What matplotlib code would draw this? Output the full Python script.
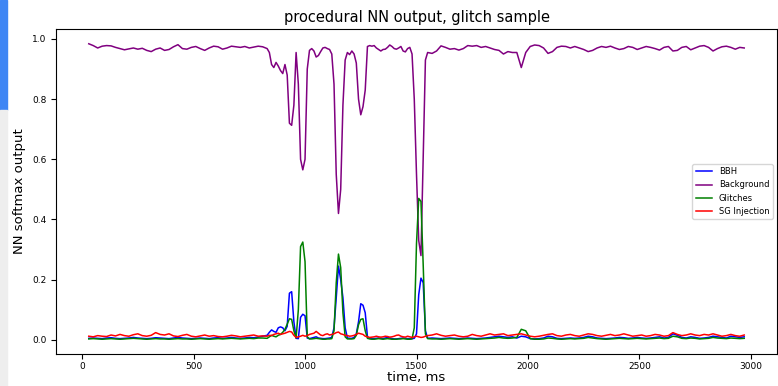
import numpy as np
import matplotlib
matplotlib.use('Agg')  # no display
import matplotlib.pyplot as plt
from matplotlib.patches import Rectangle

# sample times (ms): coarse outside the glitch window, finer inside it
time_ms = np.concatenate([
    np.arange(30, 830, 20),     # 40 samples
    np.arange(830, 1560, 10),   # 73 samples
    np.arange(1570, 2990, 20),  # 71 samples
])

bbh = [
    0.005, 0.006, 0.005, 0.004, 0.006, 0.007, 0.005, 0.004, 0.005, 0.006,
    0.008, 0.006, 0.005, 0.004, 0.005, 0.007, 0.006, 0.005, 0.004, 0.006,
    0.008, 0.006, 0.005, 0.004, 0.005, 0.006, 0.005, 0.004, 0.006, 0.007,
    0.005, 0.006, 0.008, 0.006, 0.005, 0.006, 0.008, 0.007, 0.009, 0.012,
    # 830 - 1550
    0.015, 0.025, 0.033, 0.028, 0.025, 0.040, 0.043, 0.040, 0.030, 0.045,
    0.155, 0.160, 0.060, 0.005, 0.004, 0.075, 0.085, 0.080, 0.006, 0.004,
    0.006, 0.008, 0.010, 0.006, 0.005, 0.004, 0.004, 0.005, 0.006, 0.008,
    0.040, 0.140, 0.245, 0.200, 0.140, 0.040, 0.006, 0.005, 0.005, 0.008,
    0.020, 0.060, 0.120, 0.115, 0.090, 0.010, 0.005, 0.004, 0.004, 0.005,
    0.006, 0.005, 0.004, 0.006, 0.008, 0.006, 0.004, 0.003, 0.003, 0.004,
    0.005, 0.006, 0.005, 0.004, 0.004, 0.004, 0.005, 0.020, 0.150, 0.205,
    0.190, 0.030, 0.005,
    # 1570 - 2970
    0.006, 0.005, 0.004, 0.005, 0.006, 0.005, 0.004, 0.005, 0.006, 0.005,
    0.004, 0.005, 0.006, 0.008, 0.010, 0.012, 0.010, 0.008, 0.010, 0.006,
    0.012, 0.010, 0.004, 0.003, 0.004, 0.006, 0.012, 0.010, 0.005, 0.004,
    0.005, 0.006, 0.005, 0.006, 0.008, 0.012, 0.010, 0.006, 0.005, 0.004,
    0.005, 0.006, 0.008, 0.007, 0.005, 0.006, 0.008, 0.006, 0.005, 0.006,
    0.008, 0.010, 0.006, 0.008, 0.020, 0.015, 0.008, 0.006, 0.010, 0.008,
    0.005, 0.006, 0.008, 0.012, 0.010, 0.008, 0.006, 0.012, 0.010, 0.008,
    0.010,
]

background = [
    0.984, 0.978, 0.970, 0.976, 0.978, 0.977, 0.972, 0.968, 0.964, 0.967,
    0.970, 0.966, 0.969, 0.962, 0.958, 0.966, 0.970, 0.962, 0.965, 0.974,
    0.981, 0.968, 0.966, 0.972, 0.975, 0.968, 0.962, 0.970, 0.976, 0.974,
    0.966, 0.970, 0.976, 0.974, 0.972, 0.975, 0.970, 0.973, 0.976, 0.974,
    # 830 - 1550
    0.968, 0.955, 0.915, 0.905, 0.922, 0.910, 0.895, 0.885, 0.915, 0.880,
    0.720, 0.713, 0.780, 0.955, 0.850, 0.600, 0.565, 0.600, 0.900, 0.962,
    0.968, 0.960, 0.940, 0.945, 0.958, 0.970, 0.972, 0.968, 0.965, 0.950,
    0.850, 0.550, 0.420, 0.500, 0.780, 0.930, 0.955, 0.948, 0.960, 0.950,
    0.920, 0.800, 0.748, 0.775, 0.830, 0.975, 0.978, 0.976, 0.978, 0.970,
    0.965, 0.960, 0.965, 0.966, 0.972, 0.980, 0.975, 0.968, 0.966, 0.970,
    0.975, 0.960, 0.957, 0.968, 0.972, 0.950, 0.800, 0.550, 0.330, 0.280,
    0.600, 0.930, 0.955,
    # 1570 - 2970
    0.952, 0.960, 0.977, 0.972, 0.966, 0.968, 0.963, 0.968, 0.978, 0.976,
    0.978, 0.972, 0.975, 0.970, 0.965, 0.962, 0.950, 0.958, 0.955, 0.955,
    0.905, 0.955, 0.975, 0.980, 0.978, 0.970, 0.952, 0.958, 0.972, 0.976,
    0.975, 0.970, 0.975, 0.970, 0.965, 0.958, 0.962, 0.970, 0.975, 0.972,
    0.976, 0.970, 0.965, 0.968, 0.975, 0.972, 0.965, 0.970, 0.975, 0.972,
    0.968, 0.963, 0.972, 0.975, 0.960, 0.962, 0.972, 0.975, 0.964, 0.970,
    0.976, 0.978, 0.972, 0.960, 0.968, 0.974, 0.976, 0.972, 0.966, 0.972,
    0.970,
]

glitches = [
    0.003, 0.004, 0.003, 0.002, 0.003, 0.004, 0.003, 0.002, 0.003, 0.004,
    0.005, 0.004, 0.003, 0.002, 0.003, 0.004, 0.003, 0.003, 0.002, 0.003,
    0.004, 0.003, 0.003, 0.002, 0.003, 0.004, 0.003, 0.002, 0.003, 0.004,
    0.003, 0.004, 0.005, 0.004, 0.003, 0.004, 0.005, 0.004, 0.006, 0.006,
    # 830 - 1550
    0.005, 0.010, 0.015, 0.012, 0.010, 0.015, 0.018, 0.025, 0.035, 0.052,
    0.070, 0.068, 0.030, 0.006, 0.100, 0.310, 0.325, 0.260, 0.010, 0.003,
    0.003, 0.004, 0.005, 0.004, 0.003, 0.002, 0.002, 0.003, 0.003, 0.004,
    0.030, 0.190, 0.285, 0.240, 0.090, 0.010, 0.003, 0.003, 0.003, 0.004,
    0.015, 0.050, 0.068, 0.070, 0.030, 0.005, 0.003, 0.002, 0.002, 0.003,
    0.004, 0.003, 0.002, 0.003, 0.004, 0.003, 0.002, 0.002, 0.002, 0.003,
    0.003, 0.004, 0.003, 0.002, 0.002, 0.003, 0.040, 0.320, 0.470, 0.460,
    0.250, 0.020, 0.004,
    # 1570 - 2970
    0.003, 0.003, 0.002, 0.003, 0.004, 0.003, 0.002, 0.003, 0.004, 0.003,
    0.002, 0.003, 0.004, 0.005, 0.006, 0.008, 0.006, 0.005, 0.006, 0.008,
    0.035, 0.030, 0.004, 0.002, 0.002, 0.003, 0.006, 0.005, 0.003, 0.002,
    0.003, 0.004, 0.003, 0.004, 0.005, 0.008, 0.006, 0.004, 0.003, 0.002,
    0.003, 0.004, 0.005, 0.004, 0.003, 0.004, 0.005, 0.004, 0.003, 0.004,
    0.005, 0.006, 0.004, 0.005, 0.012, 0.010, 0.005, 0.004, 0.006, 0.005,
    0.003, 0.004, 0.005, 0.008, 0.006, 0.005, 0.004, 0.006, 0.005, 0.004,
    0.005,
]

sg_injection = [
    0.012, 0.010, 0.014, 0.012, 0.011, 0.016, 0.013, 0.018, 0.014, 0.012,
    0.017, 0.020, 0.014, 0.012, 0.015, 0.024, 0.018, 0.016, 0.020, 0.013,
    0.011, 0.015, 0.018, 0.012, 0.010, 0.013, 0.016, 0.012, 0.014, 0.011,
    0.010, 0.012, 0.015, 0.013, 0.010, 0.012, 0.014, 0.016, 0.012, 0.013,
    # 830 - 1550
    0.012, 0.015, 0.014, 0.018, 0.020, 0.022, 0.018, 0.020, 0.022, 0.025,
    0.028, 0.026, 0.015, 0.008, 0.010, 0.012, 0.015, 0.012, 0.014, 0.018,
    0.020, 0.022, 0.028, 0.022, 0.016, 0.014, 0.018, 0.020, 0.016, 0.018,
    0.020, 0.024, 0.026, 0.020, 0.018, 0.015, 0.014, 0.012, 0.013, 0.015,
    0.018, 0.022, 0.020, 0.018, 0.012, 0.010, 0.008, 0.009, 0.010, 0.012,
    0.010, 0.009, 0.010, 0.012, 0.011, 0.009, 0.010, 0.012, 0.015, 0.016,
    0.012, 0.010, 0.009, 0.012, 0.010, 0.008, 0.010, 0.012, 0.010, 0.008,
    0.009, 0.012, 0.014,
    # 1570 - 2970
    0.016, 0.020, 0.015, 0.012, 0.014, 0.016, 0.012, 0.010, 0.012, 0.018,
    0.014, 0.012, 0.016, 0.020, 0.016, 0.018, 0.020, 0.014, 0.016, 0.018,
    0.020, 0.016, 0.012, 0.010, 0.012, 0.015, 0.018, 0.020, 0.014, 0.012,
    0.016, 0.018, 0.014, 0.012, 0.016, 0.020, 0.018, 0.014, 0.012, 0.015,
    0.018, 0.014, 0.016, 0.020, 0.016, 0.012, 0.014, 0.016, 0.012, 0.014,
    0.018, 0.016, 0.012, 0.014, 0.024, 0.018, 0.014, 0.016, 0.020, 0.016,
    0.014, 0.018, 0.016, 0.020, 0.016, 0.012, 0.014, 0.018, 0.014, 0.012,
    0.016,
]

series_names = ['BBH', 'Background', 'Glitches', 'SG Injection']
series_colors = ['blue', 'purple', 'green', 'red']


def main():
    W, H = 778, 386
    fig = plt.figure(figsize=(W / 100, H / 100), dpi=100)
    ax = fig.add_axes([56 / W, 1 - 354 / H, (777 - 56) / W, (354 - 29) / H])

    # screenshot leftovers on the left edge
    fig.patches.append(Rectangle((0, 1 - 110 / H), 7 / W, 110 / H,
                                 transform=fig.transFigure, color='#3f86f4', zorder=0))
    fig.patches.append(Rectangle((0, 0), 7 / W, 1 - 110 / H,
                                 transform=fig.transFigure, color='#eeeeee', zorder=0))

    for vals, name, col in zip([bbh, background, glitches, sg_injection],
                               series_names, series_colors):
        ax.plot(time_ms, vals, color=col, lw=1.1, label=name)

    ax.set_title('procedural NN output, glitch sample', fontsize=10.5, pad=5)
    ax.set_xlabel('time, ms', fontsize=9.5, labelpad=0)
    ax.set_ylabel('NN softmax output', fontsize=9.5)
    ax.tick_params(labelsize=6.5)
    ax.tick_params(axis='x', pad=2.5)
    ax.legend(loc='center right', fontsize=6)

    fig.savefig('out.png', dpi=100)
    plt.close(fig)


if __name__ == "__main__":
    main()
